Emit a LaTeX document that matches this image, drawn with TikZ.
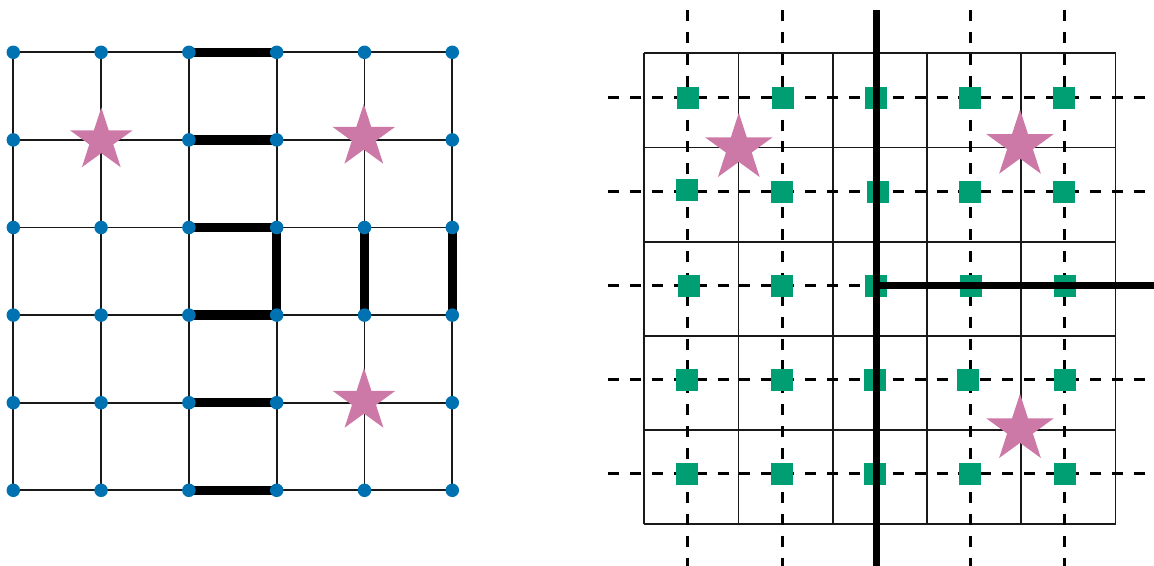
\documentclass[tikz,border=0pt]{standalone}
\usetikzlibrary{shapes.geometric}
\definecolor{dotblue}{HTML}{0072B2}
\definecolor{sqgreen}{HTML}{009E73}
\definecolor{starpink}{HTML}{CC79A7}
\tikzset{
  gridline/.style={line width=1.8pt, draw=black!90},
  thickbar/.style={line width=9.5pt, draw=black},
  thickcut/.style={line width=7.5pt, draw=black},
  dualline/.style={line width=3pt, draw=black, dash pattern=on 11pt off 10.9pt},
  dotmark/.style={circle, fill=dotblue, inner sep=0pt, minimum size=13.5pt},
  sqmark/.style={rectangle, fill=sqgreen, inner sep=0pt, minimum size=21.7pt},
  starmark/.style={star, star points=5, star point ratio=2.618, fill=starpink, inner sep=0pt, minimum size=#1},
  starmark/.default=66pt
}
\begin{document}
\begin{tikzpicture}[x=1pt,y=-1pt]
\useasboundingbox (0,0) rectangle (1154,565);
% ---------- left panel ----------
\foreach \i in {0,...,5}{
  \foreach \j in {0,...,5}{
    \coordinate (L\i\j) at ({13.3+87.8*\i},{52.3+87.6*\j});
  }
}
\foreach \k in {0,...,5}{
  \draw[gridline] (L0\k) -- (L5\k);
  \draw[gridline] (L\k0) -- (L\k5);
}
\draw[thickbar] (L20) -- (L30);
\draw[thickbar] (L21) -- (L31);
\draw[thickbar] (L22) -- (L32);
\draw[thickbar] (L32) -- (L33);
\draw[thickbar] (L23) -- (L33);
\draw[thickbar] (L42) -- (L43);
\draw[thickbar] (L52) -- (L53);
\draw[thickbar] (L24) -- (L34);
\draw[thickbar] (L25) -- (L35);
\foreach \i in {0,...,5}{
  \foreach \j in {0,...,5}{
    \node[dotmark] (D\i\j) at (L\i\j) {};
  }
}
\node[starmark=66pt] (S1) at (101.3,140.5) {};
\node[starmark=66pt] (S2) at (363.8,137) {};
\node[starmark=66pt] (S3) at (364,401) {};
% ---------- right panel ----------
\foreach \i in {0,...,5}{
  \foreach \j in {0,...,5}{
    \coordinate (R\i\j) at ({644.3+94.25*\i},{53.3+94.2*\j});
  }
}
\foreach \k in {0,...,5}{
  \draw[gridline] (R0\k) -- (R5\k);
  \draw[gridline] (R\k0) -- (R\k5);
}
% dual (dashed) lines
\foreach \k/\x in {0/687.7,1/782,3/970.3,4/1064.5}{
  \coordinate (VT\k) at (\x,10);
  \coordinate (VB\k) at (\x,566);
  \draw[dualline] (VT\k) -- (VB\k);
}
\foreach \k/\y in {0/97.3,1/191.3,2/285.6,3/379.6,4/473.8}{
  \coordinate (HL\k) at (608,\y);
  \coordinate (HR\k) at (1156,\y);
  \draw[dualline] (HL\k) -- (HR\k);
}
% green squares
\foreach \n/\x/\y in {00/688.2/98, 10/783/98, 20/875.8/98, 30/970/98, 40/1064/98,
                      01/687/190, 11/782/192, 21/878/192, 31/970/192, 41/1064/192,
                      02/689/286, 12/782/286, 22/876/286, 32/971/286, 42/1065/286,
                      03/687/380, 13/782/380, 23/875/380, 33/968/380, 43/1065/380,
                      04/687/474, 14/782/474, 24/875/474, 34/970/474, 44/1065/474}{
  \node[sqmark] (Q\n) at (\x,\y) {};
}
% thick cut
\coordinate (CT) at (876.5,10);
\coordinate (CB) at (876.5,566);
\coordinate (CM) at (876.5,285.4);
\coordinate (CR) at (1156,285.4);
\draw[thickcut] (CT) -- (CB);
\draw[thickcut] (CM) -- (CR);
% stars
\node[starmark=71pt] (S4) at (738.8,148.3) {};
\node[starmark=71pt] (S5) at (1020,145) {};
\node[starmark=71pt] (S6) at (1020,429.3) {};
\end{tikzpicture}
\end{document}
